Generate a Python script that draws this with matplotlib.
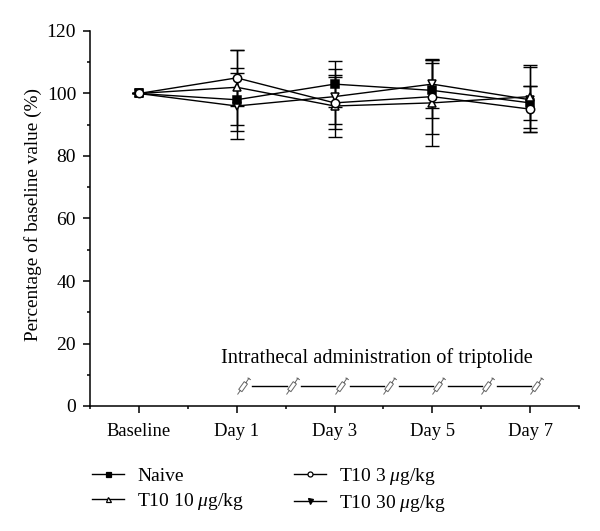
#!/usr/bin/env python3
import matplotlib
matplotlib.use('Agg')
import matplotlib.pyplot as plt
from matplotlib.path import Path
from matplotlib.ticker import FixedLocator

plt.rcParams['font.family'] = ['Liberation Serif', 'DejaVu Serif']
plt.rcParams['mathtext.fontset'] = 'custom'
plt.rcParams['mathtext.it'] = 'Liberation Serif:italic'

days = ['Baseline', 'Day 1', 'Day 3', 'Day 5', 'Day 7']
day_pos = [0, 1, 2, 3, 4]

naive = [100, 98, 103, 101, 97]
naive_err = [0, 10, 7.4, 8.8, 5.5]
t3 = [100, 105, 97, 99, 95]
t3_err = [0, 9, 8.4, 12, 7.4]
t10 = [100, 102, 96, 97, 99]
t10_err = [0, 12, 9.8, 13.7, 10.2]
t30 = [100, 96, 99, 103, 98]
t30_err = [0, 10.7, 8.7, 7.7, 10.4]

injection_days = [1, 1.5, 2, 2.5, 3, 3.5, 4]

W, H = 600, 531
fig = plt.figure(figsize=(W / 100, H / 100), dpi=100)
ax = fig.add_axes([90 / W, 1 - 406 / H, 489 / W, 375 / H])

# small syringe, needle tip at the marker origin
syringe = Path(
    [(0, 0), (0.17, 0.24),
     (0.267, 0.17), (0.597, 0.63), (0.403, 0.77), (0.073, 0.31), (0.267, 0.17),
     (0.5, 0.7), (0.7, 1.0),
     (0.6, 1.0), (0.8, 0.88)],
    [Path.MOVETO, Path.LINETO,
     Path.MOVETO, Path.LINETO, Path.LINETO, Path.LINETO, Path.CLOSEPOLY,
     Path.MOVETO, Path.LINETO,
     Path.MOVETO, Path.LINETO])

# name, values, errors, marker, face in the plot, face in the legend
series = [
    ('T10 30 $\\mathit{\\mu}$g/kg', t30, t30_err, 'v', 'white', 'black'),
    ('Naive', naive, naive_err, 's', 'black', 'black'),
    ('T10 10 $\\mathit{\\mu}$g/kg', t10, t10_err, '^', 'white', 'white'),
    ('T10 3 $\\mathit{\\mu}$g/kg', t3, t3_err, 'o', 'white', 'white'),
]

handles = {}
for name, vals, errs, mk, face, leg_face in series:
    ax.errorbar(day_pos, vals, yerr=errs, color='black', elinewidth=1.0,
                capsize=4.7, capthick=1.0, fmt='none', zorder=2)
    ax.plot(day_pos, vals, color='black', lw=1.0, marker=mk, ms=6, mfc=face,
            mec='black', mew=1.1, zorder=3)
    # legend handles use smaller markers than the plot
    handles[name], = ax.plot([], [], color='black', lw=1.0, marker=mk, ms=3.6,
                             mfc=leg_face, mec='black', mew=0.9)

# injection schedule
for a, b in zip(injection_days[:-1], injection_days[1:]):
    ax.plot([a + 0.16, b + 0.01], [6.4, 6.4], color='black', lw=1.0, zorder=1)
ax.plot(injection_days, [3.8] * len(injection_days), ls='none', marker=syringe, ms=24,
        mfc='white', mec='#666666', mew=0.7, zorder=2)
ax.text(2.435, 13.6, 'Intrathecal administration of triptolide', ha='center', va='baseline',
        fontsize=14.7)

ax.set_xlim(-0.5, 4.5)
ax.set_ylim(0, 120)
ax.set_xticks(day_pos)
ax.set_xticklabels(days, fontsize=13.4)
ax.xaxis.set_minor_locator(FixedLocator([-0.5, 0.5, 1.5, 2.5, 3.5, 4.5]))
ax.set_yticks(range(0, 121, 20))
ax.yaxis.set_minor_locator(FixedLocator(range(10, 120, 20)))
ax.tick_params(axis='y', labelsize=14, length=5, width=1.1, pad=5)
ax.tick_params(axis='y', which='minor', length=2.5, width=1.1)
ax.tick_params(axis='x', length=5, width=1.1, pad=7)
ax.tick_params(axis='x', which='minor', length=2.5, width=1.1)
ax.set_ylabel('Percentage of baseline value (%)', fontsize=13.9, labelpad=3, y=0.51)
for s in ['top', 'right']:
    ax.spines[s].set_visible(False)
for s in ['left', 'bottom']:
    ax.spines[s].set_linewidth(1.1)

legend_order = ['Naive', series[2][0], series[3][0], series[0][0]]
fig.legend([handles[n] for n in legend_order], legend_order,
           ncol=2, frameon=False, fontsize=14, loc='upper left',
           bbox_to_anchor=(92 / W, 1 - 466 / H), borderpad=0, borderaxespad=0,
           handlelength=1.65, handletextpad=0.67, columnspacing=2.57, labelspacing=0.3)

fig.savefig('out.png', dpi=100)
